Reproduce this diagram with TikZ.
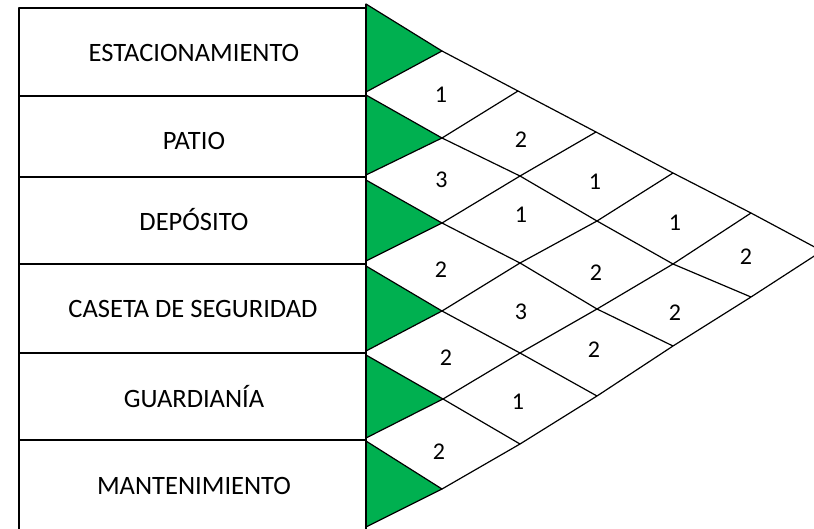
\documentclass[tikz,border=0pt]{standalone}
\usepackage{fontspec}
\setmainfont{Carlito}
\definecolor{ogreen}{HTML}{00B050}
\begin{document}
\begin{tikzpicture}[x=1pt,y=-1pt, line width=1.2pt, line join=round,
  rowbox/.style={draw=black},
  tri/.style={fill=ogreen, draw=black},
  grid/.style={draw=black},
  namelbl/.style={font=\fontsize{26.5}{30}\selectfont, anchor=base, inner sep=0pt},
  numlbl/.style={font=\fontsize{24}{28}\selectfont, inner sep=0pt}]
\useasboundingbox (0,0) rectangle (814,528);
\clip (0,0) rectangle (814,528);
% row boxes
\draw[rowbox] (19,8) rectangle (366,96);
\draw[rowbox] (19,96) rectangle (366,177);
\draw[rowbox] (19,177) rectangle (366,264);
\draw[rowbox] (19,264) rectangle (366,353);
\draw[rowbox] (19,353) rectangle (366,440);
\draw[rowbox] (19,440) rectangle (366,532);
% names
\node[namelbl] (n1) at (194,61.5) {ESTACIONAMIENTO};
\node[namelbl] (n2) at (194,149) {PATIO};
\node[namelbl] (n3) at (194,230.5) {DEPÓSITO};
\node[namelbl] (n4) at (193,317) {CASETA DE SEGURIDAD};
\node[namelbl] (n5) at (194,407) {GUARDIANÍA};
\node[namelbl] (n6) at (194,494) {MANTENIMIENTO};
% lattice vertices
\coordinate (A1) at (442,51);
\coordinate (A2) at (442,138);
\coordinate (A3) at (442,223);
\coordinate (A4) at (442,311);
\coordinate (A5) at (443,399);
\coordinate (A6) at (442,489);
\coordinate (B1) at (518,91);
\coordinate (B2) at (520,176);
\coordinate (B3) at (520,263);
\coordinate (B4) at (520,353);
\coordinate (B5) at (520,444);
\coordinate (C1) at (596,132);
\coordinate (C2) at (597,221);
\coordinate (C3) at (597,309);
\coordinate (C4) at (597,396);
\coordinate (D1) at (673,173);
\coordinate (D2) at (673,264);
\coordinate (D3) at (673,346);
\coordinate (E1) at (751,213);
\coordinate (E2) at (751,297);
\coordinate (F1) at (822,251);
% triangles
\draw[tri] (366,4) -- (A1) -- (366,92) -- cycle;
\draw[tri] (366,95) -- (A2) -- (366,175) -- cycle;
\draw[tri] (366,180) -- (A3) -- (366,261) -- cycle;
\draw[tri] (366,266) -- (A4) -- (366,351) -- cycle;
\draw[tri] (366,355) -- (A5) -- (366,438) -- cycle;
\draw[tri] (366,441) -- (A6) -- (366,527) -- cycle;
\draw (366,4) -- (366,527);
% lattice lines
\draw[grid] (A1) -- (B1) -- (C1) -- (D1) -- (E1) -- (F1);
\draw[grid] (A2) -- (B2) -- (C2) -- (D2) -- (E2);
\draw[grid] (A3) -- (B3) -- (C3) -- (D3);
\draw[grid] (A4) -- (B4) -- (C4);
\draw[grid] (A5) -- (B5);
\draw[grid] (A6) -- (B5) -- (C4) -- (D3) -- (E2) -- (F1);
\draw[grid] (A5) -- (B4) -- (C3) -- (D2) -- (E1);
\draw[grid] (A4) -- (B3) -- (C2) -- (D1);
\draw[grid] (A3) -- (B2) -- (C1);
\draw[grid] (A2) -- (B1);
% values
\node[numlbl] (v12) at (441,95) {1};
\node[numlbl] (v23) at (441.5,180) {3};
\node[numlbl] (v34) at (441,270) {2};
\node[numlbl] (v45) at (446,358) {2};
\node[numlbl] (v56) at (439,452) {2};
\node[numlbl] (v13) at (521,140) {2};
\node[numlbl] (v24) at (521,215) {1};
\node[numlbl] (v35) at (521,312) {3};
\node[numlbl] (v46) at (518,402) {1};
\node[numlbl] (v14) at (595,182) {1};
\node[numlbl] (v25) at (596,273) {2};
\node[numlbl] (v36) at (594,350) {2};
\node[numlbl] (v15) at (675,223) {1};
\node[numlbl] (v26) at (675,313) {2};
\node[numlbl] (v16) at (746,257) {2};
\end{tikzpicture}
\end{document}
